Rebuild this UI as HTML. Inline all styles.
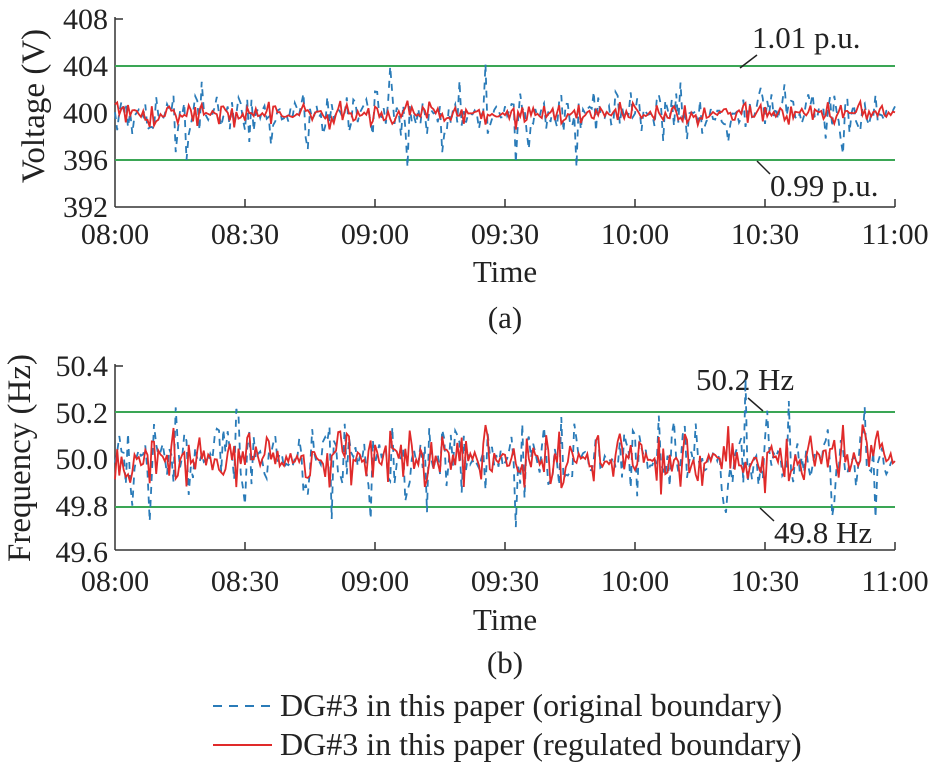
<!DOCTYPE html>
<html><head><meta charset="utf-8"><style>
body{margin:0;background:#fff}
svg text{font-family:"Liberation Serif","Times New Roman",serif;fill:#222}
</style></head><body>
<svg id="s" width="930" height="771" xmlns="http://www.w3.org/2000/svg" font-family="Liberation Serif, serif">
<g font-size="30">
<line x1="115" y1="17" x2="115" y2="207" stroke="#333" stroke-width="1.5"/>
<line x1="115" y1="207" x2="895" y2="207" stroke="#333" stroke-width="1.5"/>
<line x1="115" y1="19" x2="123" y2="19" stroke="#333" stroke-width="1.5"/>
<line x1="115" y1="66" x2="895" y2="66" stroke="#3aa655" stroke-width="2"/>
<line x1="115" y1="160" x2="895" y2="160" stroke="#3aa655" stroke-width="2"/>
<text x="108" y="29" text-anchor="end">408</text>
<text x="108" y="76" text-anchor="end">404</text>
<text x="108" y="123" text-anchor="end">400</text>
<text x="108" y="170" text-anchor="end">396</text>
<text x="108" y="217" text-anchor="end">392</text>
<text transform="translate(44,106) rotate(-90)" text-anchor="middle" font-size="33">Voltage (V)</text>
<g id="xt1"></g>
<text x="505" y="282" text-anchor="middle" font-size="31">Time</text>
<text x="505" y="328" text-anchor="middle" font-size="31">(a)</text>
<text x="752" y="48" font-size="31">1.01 p.u.</text>
<line x1="757" y1="55" x2="740" y2="68" stroke="#222" stroke-width="1.5"/>
<text x="770" y="196" font-size="31">0.99 p.u.</text>
<line x1="757" y1="161" x2="770" y2="174" stroke="#222" stroke-width="1.5"/>
<line x1="115" y1="364" x2="115" y2="550" stroke="#333" stroke-width="1.5"/>
<line x1="115" y1="550" x2="895" y2="550" stroke="#333" stroke-width="1.5"/>
<line x1="115" y1="366" x2="123" y2="366" stroke="#333" stroke-width="1.5"/>
<line x1="115" y1="412" x2="895" y2="412" stroke="#3aa655" stroke-width="2"/>
<line x1="115" y1="507" x2="895" y2="507" stroke="#3aa655" stroke-width="2"/>
<text x="108" y="376" text-anchor="end">50.4</text>
<text x="108" y="423" text-anchor="end">50.2</text>
<text x="108" y="469" text-anchor="end">50.0</text>
<text x="108" y="516" text-anchor="end">49.8</text>
<text x="108" y="562" text-anchor="end">49.6</text>
<text transform="translate(30,458) rotate(-90)" text-anchor="middle" font-size="33">Frequency (Hz)</text>
<g id="xt2"></g>
<text x="505" y="630" text-anchor="middle" font-size="31">Time</text>
<text x="505" y="673" text-anchor="middle" font-size="31">(b)</text>
<text x="696" y="390" font-size="31">50.2 Hz</text>
<line x1="748" y1="398" x2="763" y2="411" stroke="#222" stroke-width="1.5"/>
<text x="774" y="543" font-size="31">49.8 Hz</text>
<line x1="760" y1="508" x2="774" y2="521" stroke="#222" stroke-width="1.5"/>
<line x1="213" y1="706" x2="272" y2="706" stroke="#2a7bb8" stroke-width="2" stroke-dasharray="9,7"/>
<text x="280" y="716" font-size="32">DG#3 in this paper (original boundary)</text>
<line x1="213" y1="745" x2="272" y2="745" stroke="#e02a2a" stroke-width="2"/>
<text x="280" y="755" font-size="32">DG#3 in this paper (regulated boundary)</text>
</g>
<g id="d"></g>
</svg>
<script>
var NS="http://www.w3.org/2000/svg";
function el(p,t,a,txt){var e=document.createElementNS(NS,t);for(var k in a)e.setAttribute(k,a[k]);if(txt)e.textContent=txt;document.getElementById(p).appendChild(e);}
var labs=["08:00","08:30","09:00","09:30","10:00","10:30","11:00"];
labs.forEach(function(l,i){var x=115+130*i;
[["xt1",207,244],["xt2",550,591]].forEach(function(a){
if(i>0)el(a[0],"line",{x1:x,y1:a[1],x2:x,y2:a[1]-8,stroke:"#333","stroke-width":1.5});
el(a[0],"text",{x:x,y:a[2],"text-anchor":"middle","font-size":30},l);});});
var seed=11;function r(){seed=(seed*16807)%2147483647;return seed/2147483647;}
var N=360;
var bursts=[2,6,17,27,33,38,48,55,62,72,88,99,104,108,118,127,135,144,152,160,171,185,190,200,206,213,222,232,240,252,258,262,270,283,291,300,310,320,330,336,345,352];
function env(i){var e=0.2;bursts.forEach(function(b){var d=Math.abs(i-b);if(d<4)e=Math.max(e,1-d/5);});return e;}
function series(cy,scaleR,scaleB){
var pr="",pb="";
for(var i=0;i<=N;i++){var x=115+780*i/N;var e=env(i);
var vr=(r()-0.5)*2*e*scaleR;
var vb=(r()-0.5)*2*e*scaleB*(r()<0.3?2:1);
pr+=(i?"L":"M")+x.toFixed(1)+","+(cy+vr).toFixed(1);
pb+=(i?"L":"M")+x.toFixed(1)+","+(cy+vb).toFixed(1);}
el("d","path",{d:pb,fill:"none",stroke:"#2a7bb8","stroke-width":1.8,"stroke-dasharray":"7,6"});
el("d","path",{d:pr,fill:"none",stroke:"#e02a2a","stroke-width":1.8});}
series(114,16,28);
series(459,36,40);
</script>
</body></html>
